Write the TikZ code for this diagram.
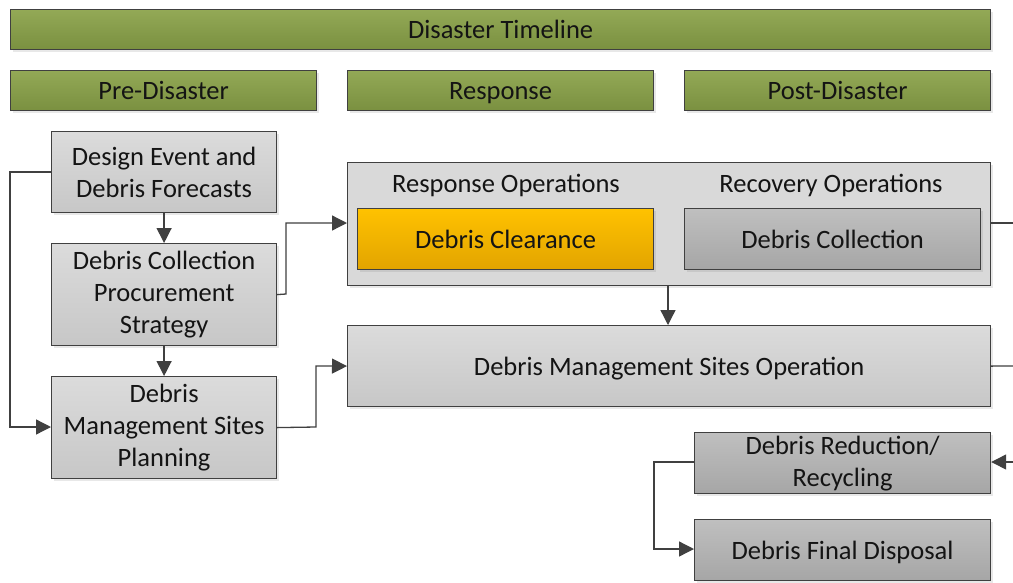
\documentclass[tikz,border=0pt]{standalone}
\usepackage{fontspec}
\setmainfont{Carlito}
\usetikzlibrary{arrows.meta,shadows}
\definecolor{grtop}{HTML}{93A956}
\definecolor{grbot}{HTML}{7A9040}
\definecolor{edge}{HTML}{404040}
\begin{document}
\begin{tikzpicture}[x=1pt,y=-1pt,
  font=\fontsize{26.5}{32}\selectfont,
  base/.style={draw=edge,line width=1.2pt,anchor=north west,inner sep=0pt,align=center,
    text=black!92,drop shadow={opacity=0.18,shadow xshift=2pt,shadow yshift=-2pt}},
  one/.style={text height=22pt,text depth=3.5pt},
  greenbox/.style={base,one,top color=grtop,bottom color=grbot},
  graybox/.style={base,top color=black!14,bottom color=black!22},
  darkbox/.style={base,top color=black!25,bottom color=black!35},
  orangebox/.style={base,top color={rgb,255:red,255;green,194;blue,0},bottom color={rgb,255:red,226;green,164;blue,0}},
  plainbox/.style={base,fill=black!15},
  conn/.style={draw=edge,line width=1.3pt,-{Triangle[length=15pt,width=15pt]}},
  line/.style={draw=edge,line width=1.3pt}]
\useasboundingbox (0,0) rectangle (1013,582);
\fill[white] (0,0) rectangle (1013,582);
% header
\node[greenbox,minimum width=980pt,minimum height=40pt] (tl) at (10,9) {Disaster Timeline};
\node[greenbox,minimum width=306pt,minimum height=40pt] (pre) at (10,70) {Pre-Disaster};
\node[greenbox,minimum width=306pt,minimum height=40pt] (resp) at (347,70) {Response};
\node[greenbox,minimum width=306pt,minimum height=40pt] (post) at (684,70) {Post-Disaster};
% left column
\node[graybox,minimum width=225pt,minimum height=81pt] (des) at (51,131) {Design Event and\\Debris Forecasts};
\node[graybox,minimum width=225pt,minimum height=102pt] (proc) at (51,243) {Debris Collection\\Procurement\\Strategy};
\node[graybox,minimum width=225pt,minimum height=102pt] (dmsp) at (51,376) {Debris\\Management Sites\\Planning};
% operations
\node[plainbox,minimum width=643pt,minimum height=123pt] (ops) at (347,162) {};
\node[anchor=center,text=black!92,one,inner sep=0pt] (respop) at (506,183) {Response Operations};
\node[anchor=center,text=black!92,one,inner sep=0pt] (recop) at (831,183) {Recovery Operations};
\node[orangebox,one,minimum width=296pt,minimum height=61pt,drop shadow={opacity=0}] (clr) at (357,208) {Debris Clearance};
\node[darkbox,one,minimum width=296pt,minimum height=61pt,drop shadow={opacity=0}] (col) at (684,208) {Debris Collection};
\node[graybox,one,minimum width=643pt,minimum height=81pt] (dmso) at (347,325) {Debris Management Sites Operation};
\node[darkbox,minimum width=296pt,minimum height=61pt] (red) at (694,432) {Debris Reduction/\\Recycling};
\node[darkbox,one,minimum width=296pt,minimum height=61pt] (fin) at (694,519) {Debris Final Disposal};
% off-page coordinates
\coordinate (e1) at (1013,223);
\coordinate (e2) at (1013,366);
\coordinate (e3) at (1013,462);
% connectors
\draw[conn] (des.west |- 0,172) -- (10,172) -- (10,427) -- (dmsp.west |- 0,427);
\draw[conn] (des.south) -- (proc.north);
\draw[conn] (proc.south) -- (dmsp.north);
\draw[conn] (proc.east) -- (286,294) -- (286,223) -- (ops.west |- 0,223);
\draw[conn] (dmsp.east) -- (316,427) -- (316,366) -- (dmso.west);
\draw[conn] (668,285) -- (668,325);
\draw[line] (ops.east |- e1) -- (e1);
\draw[line] (dmso.east) -- (e2);
\draw[conn] (e3) -- (red.east |- e3);
\draw[conn] (red.west |- 0,462) -- (654,462) -- (654,549) -- (fin.west |- 0,549);
\end{tikzpicture}
\end{document}
